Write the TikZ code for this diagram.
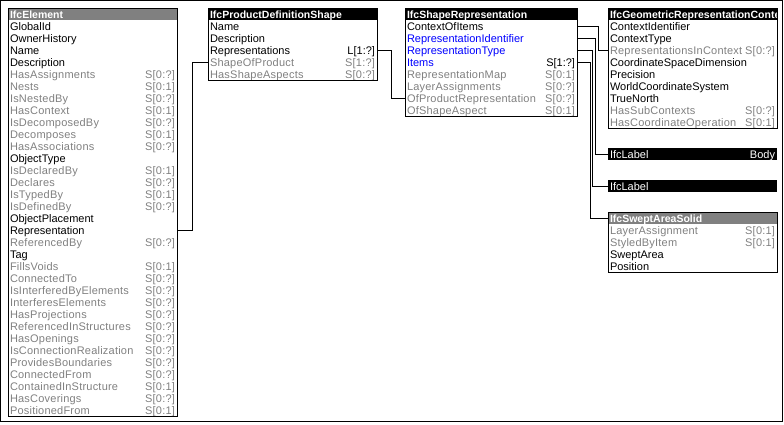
\documentclass[tikz,border=0pt]{standalone}
\usepackage{fontspec}
\setmainfont{Liberation Sans}
\newfontfamily\grf[LetterSpace=2]{Liberation Sans}
\definecolor{gtx}{RGB}{128,128,128}
\definecolor{ttlgray}{RGB}{128,128,128}
\definecolor{attrblue}{RGB}{0,0,255}
\newcommand\ktxt[1]{{\color{black}#1}}
\newcommand\gtxt[1]{{\grf\color{gtx}#1}}
\newcommand\btxt[1]{{\color{attrblue}#1}}
\tikzset{
 attr/.style={inner xsep=2pt, inner ysep=0pt, minimum height=12pt, text height=10pt, text depth=2pt, font=\fontsize{11}{12}\selectfont, outer sep=0pt},
 ttl/.style={attr, text=white, font=\fontsize{10.5}{12}\selectfont\bfseries},
 lbl/.style={attr, text=white, fill=black},
 frame/.style={draw=black, line width=1pt},
 conn/.style={draw=black, line width=1pt},
}
\newcommand\attrrow[6]{\node[attr, minimum width=#4pt, anchor=north west] (#1) at (#2,#3) {\hbox to \dimexpr #4pt-4pt\relax{#5\hfill #6}};}
\newcommand\ttlrow[6]{\node[ttl, fill=#5, minimum width=#4pt, anchor=north west] (#1) at (#2,#3) {\hbox to \dimexpr #4pt-4pt\relax{#6\hfill}};}
\begin{document}
\begin{tikzpicture}[x=1pt,y=-1pt]
\useasboundingbox (0,0) rectangle (784,424);
\draw[line width=1pt] (0.5,0.5) rectangle (782.5,421.5);
% IfcElement
\ttlrow{elt}{8}{8}{169}{ttlgray}{IfcElement}
\foreach \n/\l/\r in {
 0/\ktxt{GlobalId}/{},
 1/\ktxt{OwnerHistory}/{},
 2/\ktxt{Name}/{},
 3/\ktxt{Description}/{},
 4/\gtxt{HasAssignments}/\gtxt{S[0:?]},
 5/\gtxt{Nests}/\gtxt{S[0:1]},
 6/\gtxt{IsNestedBy}/\gtxt{S[0:?]},
 7/\gtxt{HasContext}/\gtxt{S[0:1]},
 8/\gtxt{IsDecomposedBy}/\gtxt{S[0:?]},
 9/\gtxt{Decomposes}/\gtxt{S[0:1]},
 10/\gtxt{HasAssociations}/\gtxt{S[0:?]},
 11/\ktxt{ObjectType}/{},
 12/\gtxt{IsDeclaredBy}/\gtxt{S[0:1]},
 13/\gtxt{Declares}/\gtxt{S[0:?]},
 14/\gtxt{IsTypedBy}/\gtxt{S[0:1]},
 15/\gtxt{IsDefinedBy}/\gtxt{S[0:?]},
 16/\ktxt{ObjectPlacement}/{},
 17/\ktxt{Representation}/{},
 18/\gtxt{ReferencedBy}/\gtxt{S[0:?]},
 19/\ktxt{Tag}/{},
 20/\gtxt{FillsVoids}/\gtxt{S[0:1]},
 21/\gtxt{ConnectedTo}/\gtxt{S[0:?]},
 22/\gtxt{IsInterferedByElements}/\gtxt{S[0:?]},
 23/\gtxt{InterferesElements}/\gtxt{S[0:?]},
 24/\gtxt{HasProjections}/\gtxt{S[0:?]},
 25/\gtxt{ReferencedInStructures}/\gtxt{S[0:?]},
 26/\gtxt{HasOpenings}/\gtxt{S[0:?]},
 27/\gtxt{IsConnectionRealization}/\gtxt{S[0:?]},
 28/\gtxt{ProvidesBoundaries}/\gtxt{S[0:?]},
 29/\gtxt{ConnectedFrom}/\gtxt{S[0:?]},
 30/\gtxt{ContainedInStructure}/\gtxt{S[0:1]},
 31/\gtxt{HasCoverings}/\gtxt{S[0:?]},
 32/\gtxt{PositionedFrom}/\gtxt{S[0:1]}}
 {\attrrow{el\n}{8}{20+12*\n}{169}{\l}{\r}}
\draw[frame] (elt.north west) rectangle (el32.south east);
% IfcProductDefinitionShape
\ttlrow{pdst}{208}{8}{169}{black}{IfcProductDefinitionShape}
\foreach \n/\l/\r in {
 0/\ktxt{Name}/{},
 1/\ktxt{Description}/{},
 2/\ktxt{Representations}/\ktxt{L[1:?]},
 3/\gtxt{ShapeOfProduct}/\gtxt{S[1:?]},
 4/\gtxt{HasShapeAspects}/\gtxt{S[0:?]}}
 {\attrrow{pds\n}{208}{20+12*\n}{169}{\l}{\r}}
\draw[frame] (pdst.north west) rectangle (pds4.south east);
% IfcShapeRepresentation
\ttlrow{srt}{405}{8}{172}{black}{IfcShapeRepresentation}
\foreach \n/\l/\r in {
 0/\ktxt{ContextOfItems}/{},
 1/\btxt{RepresentationIdentifier}/{},
 2/\btxt{RepresentationType}/{},
 3/\btxt{Items}/\ktxt{S[1:?]},
 4/\gtxt{RepresentationMap}/\gtxt{S[0:1]},
 5/\gtxt{LayerAssignments}/\gtxt{S[0:?]},
 6/\gtxt{OfProductRepresentation}/\gtxt{S[0:?]},
 7/\gtxt{OfShapeAspect}/\gtxt{S[0:1]}}
 {\attrrow{sr\n}{405}{20+12*\n}{172}{\l}{\r}}
\draw[frame] (srt.north west) rectangle (sr7.south east);
% IfcGeometricRepresentationContext
\begin{scope}
\clip (608,8) rectangle (777,20);
\ttlrow{grct}{608}{8}{169}{black}{IfcGeometricRepresentationContext}
\end{scope}
\foreach \n/\l/\r in {
 0/\ktxt{ContextIdentifier}/{},
 1/\ktxt{ContextType}/{},
 2/\gtxt{RepresentationsInContext}/\gtxt{S[0:?]},
 3/\ktxt{CoordinateSpaceDimension}/{},
 4/\ktxt{Precision}/{},
 5/\ktxt{WorldCoordinateSystem}/{},
 6/\ktxt{TrueNorth}/{},
 7/\gtxt{HasSubContexts}/\gtxt{S[0:?]},
 8/\gtxt{HasCoordinateOperation}/\gtxt{S[0:1]}}
 {\attrrow{grc\n}{608}{20+12*\n}{169}{\l}{\r}}
\draw[frame] (grct.north west) rectangle (grc8.south east);
% IfcLabel bars
\node[lbl, minimum width=169pt, anchor=north west] (lab1) at (608,148) {\hbox to 165pt{IfcLabel\hfill Body}};
\node[lbl, minimum width=169pt, anchor=north west] (lab2) at (608,180) {\hbox to 165pt{IfcLabel\hfill}};
% IfcSweptAreaSolid
\ttlrow{swt}{608}{212}{169}{ttlgray}{IfcSweptAreaSolid}
\foreach \n/\l/\r in {
 0/\gtxt{LayerAssignment}/\gtxt{S[0:1]},
 1/\gtxt{StyledByItem}/\gtxt{S[0:1]},
 2/\ktxt{SweptArea}/{},
 3/\ktxt{Position}/{}}
 {\attrrow{sw\n}{608}{224+12*\n}{169}{\l}{\r}}
\draw[frame] (swt.north west) rectangle (sw3.south east);
% connectors
\draw[conn] (el17.east) -- ++(15,0) |- (pds3.west);
\draw[conn] (pds2.east) -- ++(14,0) |- (sr6.west);
\draw[conn] (sr0.east) -- ++(21,0) |- (grc2.west);
\draw[conn] (sr1.east) -- ++(18,0) |- (lab1.west);
\draw[conn] (sr2.east) -- ++(15.5,0) |- (lab2.west);
\draw[conn] (sr3.east) -- ++(13,0) |- (swt.west);
\end{tikzpicture}
\end{document}
